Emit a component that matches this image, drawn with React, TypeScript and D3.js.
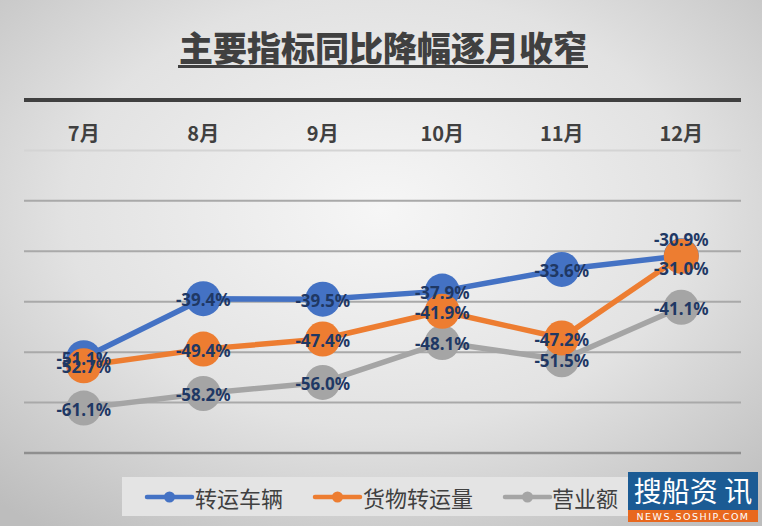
import React from "react";
import * as d3 from "d3";

const months = ["7月", "8月", "9月", "10月", "11月", "12月"];
const seriesNames = ["转运车辆", "货物转运量", "营业额"];
const vehicles = [-51.1, -39.4, -39.5, -37.9, -33.6, -30.9];
const cargo = [-52.7, -49.4, -47.4, -41.9, -47.2, -31.0];
const revenue = [-61.1, -58.2, -56.0, -48.1, -51.5, -41.1];
const yTicks = [0, -10, -20, -30, -40, -50, -60, -70];
const title = "主要指标同比降幅逐月收窄";

const W = 762;
const H = 526;
const colors = ["#4472c4", "#ed7d31", "#a5a5a5"];

export default function App() {
  const x = d3.scaleBand<string>().domain(months).range([24, 741]);
  const y = d3.scaleLinear().domain([-70, 0]).range([453, 100]);
  const cx = (m: string) => (x(m) as number) + x.bandwidth() / 2;
  const allSeries = [vehicles, cargo, revenue];
  const line = d3
    .line<number>()
    .x((_, i) => cx(months[i]))
    .y((v) => y(v));
  // draw order: gray, blue, orange (orange on top)
  const order = [2, 0, 1];
  const labelDy = (s: number, i: number) => {
    if (i === months.length - 1 && s === 0) return -16;
    if (i === months.length - 1 && s === 1) return 12;
    return 1;
  };
  const legendItems = [
    { lx: 147, tx: 195 },
    { lx: 315, tx: 363 },
    { lx: 505, tx: 552 },
  ];
  const cjk = "'Noto Sans CJK SC', 'Noto Sans', sans-serif";
  return (
    <svg
      width={W}
      height={H}
      style={{ position: "absolute", left: 0, top: 0 }}
      xmlns="http://www.w3.org/2000/svg"
    >
      <defs>
        <radialGradient id="bg" cx="50%" cy="40%" r="75%">
          <stop offset="0%" stopColor="#f6f6f6" />
          <stop offset="55%" stopColor="#e2e2e2" />
          <stop offset="100%" stopColor="#bdbdbd" />
        </radialGradient>
      </defs>
      <rect x={0} y={0} width={W} height={H} fill="url(#bg)" />
      {/* title */}
      <text
        x={383}
        y={61}
        textAnchor="middle"
        fontFamily={cjk}
        fontWeight={900}
        fontSize={34}
        fill="#404040"
      >
        {title}
      </text>
      <line x1={178} x2={588} y1={66.5} y2={66.5} stroke="#404040" strokeWidth={3} />
      {/* gridlines */}
      {yTicks
        .filter((t) => t !== 0)
        .map((t) => (
          <line
            key={t}
            x1={24}
            x2={741}
            y1={y(t)}
            y2={y(t)}
            stroke={t === -10 ? "#d4d4d4" : t === -70 ? "#8f8f8f" : "#a9a9a9"}
            strokeWidth={t === -70 ? 2.5 : 2}
          />
        ))}
      <line x1={24} x2={741} y1={y(0)} y2={y(0)} stroke="#404040" strokeWidth={4} />
      {/* month labels */}
      {months.map((m) => (
        <text
          key={m}
          x={cx(m)}
          y={141}
          textAnchor="middle"
          fontFamily={cjk}
          fontWeight={700}
          fontSize={20}
          fill="#404040"
        >
          {m}
        </text>
      ))}
      {/* series lines and markers */}
      {order.map((s) => (
        <g key={"s" + s}>
          <path
            d={line(allSeries[s]) as string}
            fill="none"
            stroke={colors[s]}
            strokeWidth={5.5}
            strokeLinejoin="round"
          />
          {allSeries[s].map((v, i) => (
            <circle key={i} cx={cx(months[i])} cy={y(v)} r={17.5} fill={colors[s]} />
          ))}
        </g>
      ))}
      {/* data labels */}
      {order.map((s) =>
        allSeries[s].map((v, i) => (
          <text
            key={"l" + s + "-" + i}
            x={cx(months[i])}
            y={y(v) + labelDy(s, i)}
            textAnchor="middle"
            dominantBaseline="central"
            fontFamily="'Noto Sans', sans-serif"
            fontWeight={700}
            fontSize={17}
            fill="#1f3864"
          >
            {v.toFixed(1) + "%"}
          </text>
        ))
      )}
      {/* legend */}
      <rect x={122} y={477} width={520} height={39} fill="#e4e4e4" />
      {legendItems.map((it, s) => (
        <g key={"lg" + s}>
          <line
            x1={it.lx}
            x2={it.lx + 45}
            y1={497}
            y2={497}
            stroke={colors[s]}
            strokeWidth={4.5}
            strokeLinecap="round"
          />
          <circle cx={it.lx + 22.5} cy={497} r={5.5} fill={colors[s]} />
          <text
            x={it.tx}
            y={497}
            dominantBaseline="central"
            fontFamily={cjk}
            fontSize={22}
            fill="#404040"
          >
            {seriesNames[s]}
          </text>
        </g>
      ))}
      {/* watermark */}
      <rect x={628} y={472} width={130} height={38} fill="#1b5b94" />
      <rect x={628} y={510} width={130} height={12} fill="#e8681e" />
      <text
        x={693}
        y={490}
        textAnchor="middle"
        dominantBaseline="central"
        fontFamily={cjk}
        fontSize={28}
        fill="#ffffff"
      >
        搜船资 讯
      </text>
      <text
        x={693}
        y={516.5}
        textAnchor="middle"
        dominantBaseline="central"
        fontFamily="'DejaVu Sans', sans-serif"
        fontSize={9.5}
        fill="#ffffff"
        letterSpacing={1.5}
      >
        NEWS.SOSHIP.COM
      </text>
    </svg>
  );
}
